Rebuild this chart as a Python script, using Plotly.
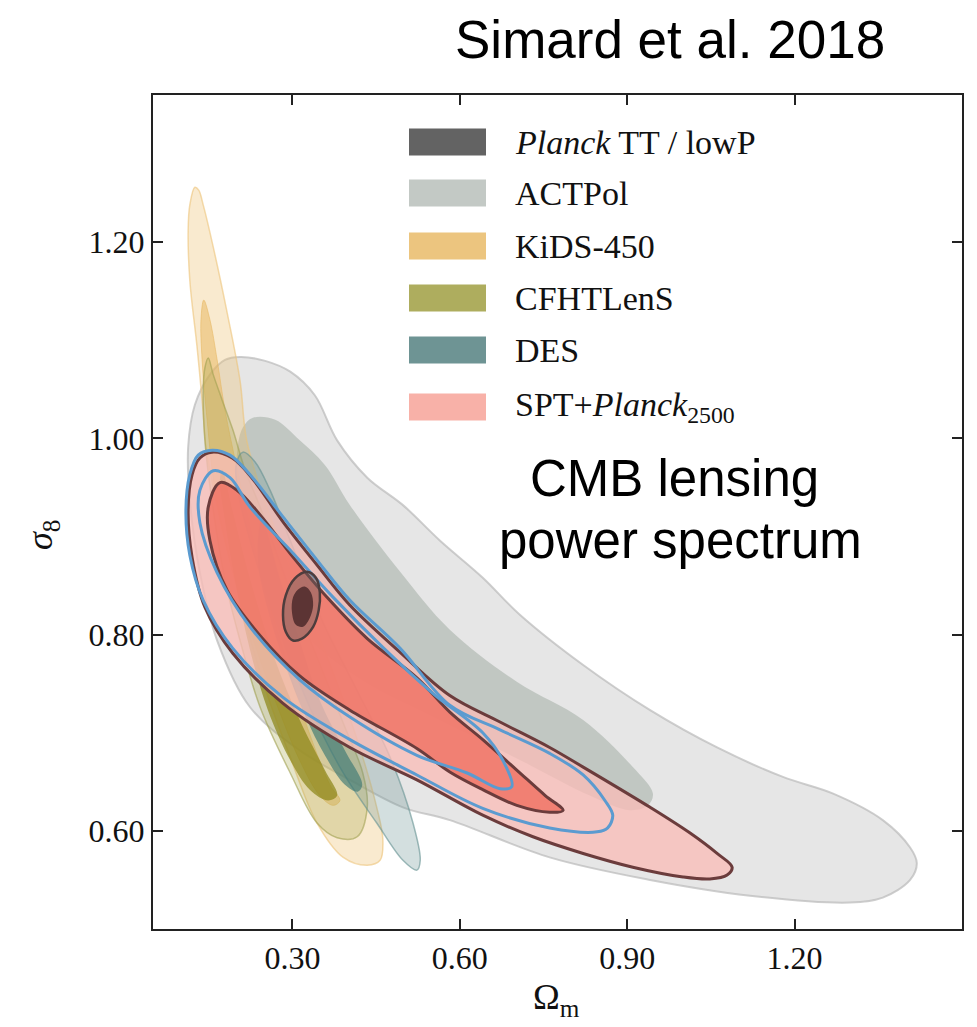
import plotly.graph_objects as go

# ---------------- data ----------------
x_range = [0.05, 1.50]
y_range = [0.50, 1.35]
x_ticks = [0.30, 0.60, 0.90, 1.20]
x_ticklabels = ["0.30", "0.60", "0.90", "1.20"]
y_ticks = [0.60, 0.80, 1.00, 1.20]
y_ticklabels = ["0.60", "0.80", "1.00", "1.20"]

legend_labels = ["<i>Planck</i> TT / lowP", "ACTPol", "KiDS-450", "CFHTLenS", "DES",
                 "SPT+<i>Planck</i><sub>2500</sub>"]

# ACTPol (68% / 95%)
actpol_outer_om = [0.206, 0.251, 0.296, 0.340, 0.380, 0.434, 0.498, 0.564, 0.641, 0.708, 0.821, 0.941,
                   1.061, 1.179, 1.269, 1.358, 1.407, 1.419, 1.407, 1.358, 1.299, 1.120, 0.941, 0.761,
                   0.582, 0.498, 0.403, 0.313, 0.224, 0.165, 0.134, 0.116, 0.113, 0.125, 0.152, 0.179]
actpol_outer_s8 = [1.083, 1.079, 1.068, 1.044, 0.998, 0.960, 0.932, 0.896, 0.858, 0.820, 0.769, 0.723,
                   0.685, 0.655, 0.638, 0.611, 0.583, 0.567, 0.550, 0.532, 0.527, 0.534, 0.550, 0.573,
                   0.611, 0.624, 0.652, 0.682, 0.726, 0.794, 0.863, 0.937, 0.991, 1.034, 1.065, 1.080]
actpol_inner_om = [0.229, 0.269, 0.313, 0.358, 0.403, 0.493, 0.582, 0.702, 0.821, 0.910, 0.946, 0.937,
                   0.905, 0.833, 0.726, 0.618, 0.529, 0.457, 0.385, 0.313, 0.260, 0.224, 0.202, 0.201, 0.211]
actpol_inner_s8 = [1.021, 1.019, 0.998, 0.973, 0.932, 0.864, 0.805, 0.752, 0.713, 0.665, 0.638, 0.626,
                   0.621, 0.636, 0.667, 0.698, 0.723, 0.743, 0.769, 0.805, 0.845, 0.896, 0.947, 0.988, 1.011]

# KiDS-450
kids_outer_om = [0.125, 0.116, 0.113, 0.116, 0.129, 0.140, 0.145, 0.170, 0.193, 0.242, 0.296, 0.344, 0.391,
                 0.434, 0.457, 0.462, 0.451, 0.416, 0.373, 0.313, 0.254, 0.218, 0.206, 0.183, 0.158, 0.140, 0.132]
kids_outer_s8 = [1.256, 1.238, 1.212, 1.161, 1.093, 1.026, 0.991, 0.917, 0.863, 0.761, 0.675, 0.608, 0.573,
                 0.565, 0.570, 0.591, 0.624, 0.693, 0.761, 0.845, 0.930, 0.998, 1.059, 1.128, 1.195, 1.238, 1.253]
kids_inner_om = [0.141, 0.152, 0.165, 0.179, 0.201, 0.233, 0.278, 0.322, 0.367, 0.385, 0.373, 0.349, 0.313,
                 0.269, 0.224, 0.188, 0.161, 0.147, 0.138, 0.136]
kids_inner_s8 = [1.141, 1.121, 1.080, 1.029, 0.968, 0.886, 0.794, 0.713, 0.647, 0.631, 0.626, 0.636, 0.672,
                 0.733, 0.805, 0.876, 0.947, 1.019, 1.080, 1.121]

# CFHTLenS
cfht_outer_om = [0.149, 0.158, 0.174, 0.193, 0.215, 0.242, 0.296, 0.344, 0.391, 0.426, 0.434, 0.416, 0.380,
                 0.344, 0.296, 0.242, 0.206, 0.179, 0.158, 0.143, 0.140, 0.143]
cfht_outer_s8 = [1.082, 1.065, 1.039, 1.009, 0.968, 0.930, 0.845, 0.777, 0.710, 0.659, 0.624, 0.594, 0.593,
                 0.608, 0.659, 0.726, 0.794, 0.856, 0.927, 0.998, 1.049, 1.072]
cfht_inner_om = [0.174, 0.192, 0.224, 0.269, 0.313, 0.358, 0.380, 0.364, 0.331, 0.296, 0.256, 0.224, 0.197,
                 0.179, 0.170]
cfht_inner_s8 = [0.968, 0.927, 0.856, 0.774, 0.713, 0.662, 0.636, 0.631, 0.642, 0.672, 0.723, 0.784, 0.856,
                 0.917, 0.958]

# DES
des_outer_om = [0.211, 0.233, 0.260, 0.296, 0.355, 0.416, 0.475, 0.516, 0.529, 0.523, 0.498, 0.451, 0.391,
                0.331, 0.272, 0.224, 0.202, 0.199]
des_outer_s8 = [0.986, 0.976, 0.947, 0.896, 0.812, 0.743, 0.675, 0.608, 0.570, 0.560, 0.570, 0.608, 0.659,
                0.726, 0.812, 0.896, 0.947, 0.973]
des_inner_om = [0.245, 0.278, 0.313, 0.349, 0.394, 0.425, 0.417, 0.394, 0.358, 0.322, 0.287, 0.256, 0.238]
des_inner_s8 = [0.917, 0.856, 0.794, 0.733, 0.682, 0.647, 0.640, 0.647, 0.677, 0.718, 0.769, 0.825, 0.876]

# SPT + Planck2500 (filled, brown outlines)
spt_outer_om = [0.156, 0.192, 0.227, 0.283, 0.344, 0.403, 0.493, 0.582, 0.672, 0.761, 0.821, 0.941, 1.012,
                1.061, 1.088, 1.079, 1.048, 1.000, 0.910, 0.821, 0.731, 0.641, 0.523, 0.403, 0.283, 0.193,
                0.143, 0.120, 0.113, 0.120, 0.134]
spt_outer_s8 = [0.986, 0.980, 0.960, 0.915, 0.871, 0.830, 0.782, 0.738, 0.711, 0.685, 0.665, 0.624, 0.598,
                0.577, 0.563, 0.555, 0.551, 0.553, 0.563, 0.577, 0.594, 0.616, 0.652, 0.685, 0.730, 0.781,
                0.828, 0.879, 0.927, 0.963, 0.980]
spt_inner_om = [0.170, 0.201, 0.242, 0.301, 0.362, 0.434, 0.523, 0.582, 0.641, 0.702, 0.753, 0.785, 0.761,
                0.702, 0.641, 0.582, 0.523, 0.403, 0.313, 0.242, 0.183, 0.152, 0.149]
spt_inner_s8 = [0.955, 0.947, 0.922, 0.879, 0.838, 0.796, 0.756, 0.721, 0.693, 0.662, 0.636, 0.621, 0.619,
                0.626, 0.642, 0.660, 0.684, 0.723, 0.758, 0.799, 0.845, 0.896, 0.930]

# SPT (blue outlines)
blue_outer_om = [0.131, 0.156, 0.188, 0.224, 0.283, 0.344, 0.403, 0.493, 0.582, 0.672, 0.761, 0.821, 0.860,
                 0.874, 0.865, 0.846, 0.761, 0.641, 0.523, 0.403, 0.283, 0.193, 0.140, 0.116, 0.109, 0.116]
blue_outer_s8 = [0.983, 0.988, 0.983, 0.963, 0.920, 0.876, 0.835, 0.786, 0.728, 0.703, 0.679, 0.657, 0.631,
                 0.616, 0.603, 0.599, 0.603, 0.623, 0.657, 0.693, 0.736, 0.786, 0.835, 0.881, 0.927, 0.963]
blue_inner_om = [0.158, 0.188, 0.224, 0.301, 0.373, 0.462, 0.552, 0.641, 0.677, 0.693, 0.672, 0.613, 0.523,
                 0.403, 0.313, 0.224, 0.165, 0.134, 0.134]
blue_inner_s8 = [0.967, 0.960, 0.930, 0.883, 0.838, 0.787, 0.740, 0.700, 0.672, 0.645, 0.643, 0.659, 0.677,
                 0.716, 0.754, 0.808, 0.863, 0.914, 0.947]

# Planck TT / lowP
planck_outer_om = [0.326, 0.342, 0.349, 0.347, 0.337, 0.317, 0.301, 0.288, 0.283, 0.288, 0.304]
planck_outer_s8 = [0.864, 0.858, 0.843, 0.825, 0.808, 0.796, 0.794, 0.803, 0.820, 0.840, 0.857]
planck_inner_om = [0.322, 0.333, 0.337, 0.331, 0.319, 0.306, 0.299, 0.301, 0.310]
planck_inner_s8 = [0.849, 0.843, 0.830, 0.817, 0.808, 0.810, 0.823, 0.838, 0.846]

# ---------------- layout geometry (pixels) ----------------
W, H = 977, 1027
PL, PR, PT, PB = 153, 962, 95, 929


def xp(px):
    return (px - PL) / (PR - PL)


def yp(py):
    return (PB - py) / (PB - PT)


def closed(a):
    return list(a) + [a[0]]


fig = go.Figure()


def add_region(om, s8, fill, line_color=None, line_width=0):
    fig.add_trace(go.Scatter(
        x=closed(om), y=closed(s8), mode="lines", fill="toself", fillcolor=fill,
        line=dict(color=line_color if line_color else "rgba(0,0,0,0)", width=line_width,
                  shape="spline", smoothing=1.0),
        hoverinfo="skip", showlegend=False))


def add_line(om, s8, color, width):
    fig.add_trace(go.Scatter(
        x=closed(om), y=closed(s8), mode="lines",
        line=dict(color=color, width=width, shape="spline", smoothing=1.0),
        hoverinfo="skip", showlegend=False))


# ACTPol
add_region(actpol_outer_om, actpol_outer_s8, "rgba(200,200,200,0.45)", "rgba(185,185,185,0.7)", 2)
add_region(actpol_inner_om, actpol_inner_s8, "rgba(168,178,170,0.6)")
# KiDS
add_region(kids_outer_om, kids_outer_s8, "rgba(236,190,110,0.33)", "rgba(236,195,120,0.6)", 1.5)
add_region(kids_inner_om, kids_inner_s8, "rgba(232,180,90,0.5)", "rgba(232,185,100,0.6)", 1)
# CFHTLenS
add_region(cfht_outer_om, cfht_outer_s8, "rgba(170,168,80,0.30)", "rgba(160,160,80,0.6)", 1.5)
add_region(cfht_inner_om, cfht_inner_s8, "rgba(140,135,25,0.72)")
# DES
add_region(des_outer_om, des_outer_s8, "rgba(110,150,150,0.30)", "rgba(100,145,145,0.6)", 1.5)
add_region(des_inner_om, des_inner_s8, "rgba(60,120,115,0.65)")
# SPT + Planck2500
add_region(spt_outer_om, spt_outer_s8, "rgba(249,188,183,0.78)", "#6b3c3c", 3)
add_region(spt_inner_om, spt_inner_s8, "rgba(240,112,98,0.82)", "#6b3c3c", 3)
# SPT blue lines
add_line(blue_outer_om, blue_outer_s8, "#5b9bd0", 3)
add_line(blue_inner_om, blue_inner_s8, "#5b9bd0", 3)
# Planck
add_region(planck_outer_om, planck_outer_s8, "rgba(105,95,95,0.45)", "#4e3d3d", 2.5)
add_region(planck_inner_om, planck_inner_s8, "#5c3434")

# ---------------- legend (patches + text) ----------------
legend_colors = ["#636363", "#c3c9c5", "#ecc57f", "#aead5e", "#6e9494", "#f8b1a8"]
row_y = [142, 193, 246, 298, 350, 407]
shapes = []
annotations = []
for lab, col, ry in zip(legend_labels, legend_colors, row_y):
    shapes.append(dict(type="rect", xref="paper", yref="paper",
                       x0=xp(409), x1=xp(486), y0=yp(ry + 13.5), y1=yp(ry - 13.5),
                       fillcolor=col, line=dict(width=0), layer="above"))
    annotations.append(dict(text=lab, xref="paper", yref="paper", x=xp(513), y=yp(ry),
                            xanchor="left", yanchor="middle", showarrow=False,
                            font=dict(family="Liberation Serif", size=34, color="#111")))

# Titles / text
annotations.append(dict(text="Simard et al. 2018", xref="paper", yref="paper", x=xp(670), y=yp(40),
                        xanchor="center", yanchor="middle", showarrow=False,
                        font=dict(family="Liberation Sans", size=53, color="#000")))
annotations.append(dict(text="CMB lensing", xref="paper", yref="paper", x=xp(674), y=yp(478),
                        xanchor="center", yanchor="middle", showarrow=False,
                        font=dict(family="Liberation Sans", size=51, color="#000")))
annotations.append(dict(text="power spectrum", xref="paper", yref="paper", x=xp(680), y=yp(540),
                        xanchor="center", yanchor="middle", showarrow=False,
                        font=dict(family="Liberation Sans", size=51, color="#000")))
# axis titles
annotations.append(dict(text="Ω<sub>m</sub>", xref="paper", yref="paper", x=xp(556), y=yp(1000),
                        xanchor="center", yanchor="middle", showarrow=False,
                        font=dict(family="Liberation Serif", size=36, color="#111")))
annotations.append(dict(text="<i>σ</i><sub>8</sub>", xref="paper", yref="paper", x=xp(42), y=yp(535),
                        xanchor="center", yanchor="middle", showarrow=False, textangle=-90,
                        font=dict(family="Liberation Serif", size=36, color="#111")))

axis_common = dict(showline=True, linewidth=2, linecolor="#222", mirror="ticks", ticks="inside",
                   ticklen=10, tickwidth=2, tickcolor="#222", showgrid=False, zeroline=False,
                   tickfont=dict(family="Liberation Serif", size=32, color="#111"))

fig.update_layout(
    width=W, height=H,
    margin=dict(l=PL, r=W - PR, t=PT, b=H - PB),
    paper_bgcolor="white", plot_bgcolor="white",
    xaxis=dict(range=x_range, tickvals=x_ticks, ticktext=x_ticklabels, **axis_common),
    yaxis=dict(range=y_range, tickvals=y_ticks, ticktext=y_ticklabels, **axis_common),
    shapes=shapes, annotations=annotations, showlegend=False,
)

fig.write_html("out.html")
